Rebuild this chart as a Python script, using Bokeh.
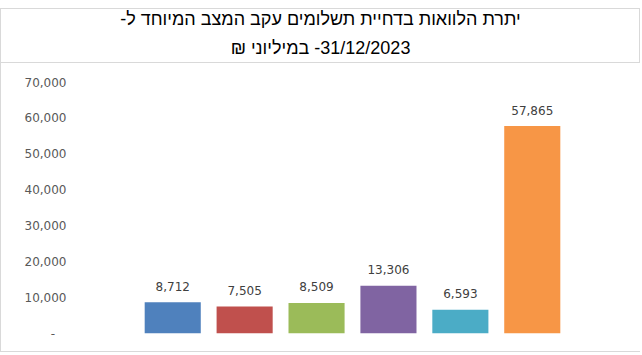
from bokeh.plotting import figure
from bokeh.layouts import column
from bokeh.models import Label, FixedTicker, NumeralTickFormatter, FactorRange, Range1d
from bokeh.core.properties import value
from bokeh.embed import file_html
from bokeh.resources import INLINE

# ---- data ----
categories = ["1", "2", "3", "4", "5", "6"]
values = [8712, 7505, 8509, 13306, 6593, 57865]
colors = ["#4F81BD", "#C0504D", "#9BBB59", "#8064A2", "#4BACC6", "#F79646"]
y_ticks = [0, 10000, 20000, 30000, 40000, 50000, 60000, 70000]
title_line1 = "יתרת הלוואות בדחיית תשלומים עקב המצב המיוחד ל-"
title_line2 = "31/12/2023- במיליוני ₪"
RLE, PDF = "\u202B", "\u202C"

W = 640
GRID = "#d9d9d9"
CL, CR = 72, 10   # chart frame borders (frames of the column are aligned)

# ---- title box ----
TH = 55
t = figure(width=W, height=TH, output_backend="svg", toolbar_location=None,
           x_range=Range1d(CL, W - CR), y_range=Range1d(TH, 0),
           x_axis_location=None, y_axis_location=None,
           min_border_left=CL, min_border_right=CR, min_border_top=0, min_border_bottom=0)
t.grid.visible = False
t.outline_line_color = None
t.background_fill_color = "white"
t.border_fill_color = "white"
t.margin = (8, 0, 0, 0)
t.styles = {"border": f"1px solid {GRID}", "box-sizing": "border-box"}
for txt, yy in [(RLE + title_line1 + PDF, 9.5), (RLE + title_line2 + PDF, 38.5)]:
    t.add_layout(Label(x=319, y=yy, text=txt,
                       text_align="center", text_baseline="middle",
                       text_font="Liberation Sans", text_font_size="18px", text_color="#000000"))

# ---- chart ----
CH = 289
p = figure(width=W, height=CH, output_backend="svg", toolbar_location=None,
           x_range=FactorRange(*categories, range_padding=0.88, range_padding_units="absolute"),
           y_range=Range1d(0, 70000), x_axis_location=None, y_axis_location="left",
           min_border_left=CL, min_border_right=CR, min_border_top=19, min_border_bottom=19)
p.outline_line_color = None
p.grid.visible = False
p.background_fill_color = "white"
p.border_fill_color = "white"
p.styles = {"border-left": f"1px solid {GRID}", "border-bottom": f"1px solid {GRID}"}

ax = p.yaxis[0]
ax.ticker = FixedTicker(ticks=y_ticks)
ax.formatter = NumeralTickFormatter(format="0,0")
ax.major_label_overrides = {0: "-\u00a0\u00a0\u00a0"}
ax.axis_line_color = None
ax.major_tick_line_color = None
ax.minor_tick_line_color = None
ax.major_tick_out = 0
ax.major_tick_in = 0
ax.major_label_standoff = 7
ax.major_label_text_font = "DejaVu Sans"
ax.major_label_text_font_size = "12px"
ax.major_label_text_color = "#595959"

p.vbar(x=categories, top=values, width=0.78, fill_color=colors, line_color=None)
labels = [f"{v:,}" for v in values]
p.text(x=categories, y=values, text=labels, text_align="center", text_baseline="middle",
       y_offset=-16, text_font=value("DejaVu Sans"), text_font_size="12px", text_color="#404040")

layout = column(t, p, spacing=0)
open("out.html", "w").write(file_html(layout, INLINE))
